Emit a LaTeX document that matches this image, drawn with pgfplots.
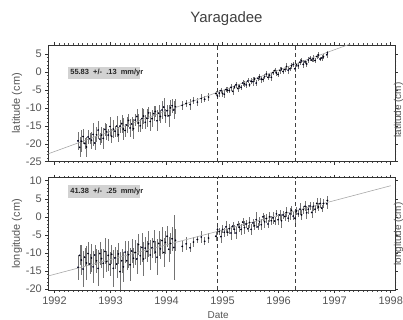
\documentclass[border=0pt]{standalone}
\usepackage{pgfplots}
\pgfplotsset{compat=1.18}
\usepackage{pgfplotstable}
\usepackage{fontspec}
\setmainfont{Liberation Sans}
\definecolor{txtgray}{HTML}{555555}
\definecolor{boxgray}{HTML}{D2D2D2}
\definecolor{fitgray}{HTML}{A8A8A8}

\pgfplotstableread{
t lat late lon lone
1992.42 -19.2 2.5 -14.0 3.5
1992.45 -21.0 2.8 -10.7 2.8
1992.48 -19.3 3.0 -12.0 4.2
1992.51 -18.0 2.2 -14.5 5.0
1992.54 -19.9 1.6 -11.2 2.5
1992.57 -20.9 2.8 -12.8 4.8
1992.60 -18.1 2.0 -10.2 3.2
1992.63 -18.6 1.5 -13.1 2.7
1992.66 -19.0 2.4 -11.4 3.9
1992.69 -17.4 3.2 -13.9 4.5
1992.72 -19.8 1.9 -10.6 2.9
1992.75 -17.5 2.1 -12.2 3.4
1992.78 -16.2 2.6 -14.3 5.0
1992.81 -18.7 1.7 -10.2 3.1
1992.84 -17.6 2.3 -11.6 2.6
1992.87 -18.5 3.0 -12.9 4.0
1992.90 -16.0 1.8 -9.6 3.6
1992.93 -16.7 2.2 -12.4 2.8
1992.96 -17.6 1.6 -10.7 4.4
1992.99 -15.2 2.7 -13.2 3.3
1993.02 -17.9 2.0 -10.4 2.7
1993.05 -15.9 2.4 -14.3 5.2
1993.08 -16.5 1.5 -11.4 3.0
1993.11 -15.1 2.9 -13.1 3.8
1993.14 -17.5 2.1 -10.3 2.9
1993.17 -15.1 1.8 -15.2 5.5
1993.20 -14.4 2.5 -12.2 3.4
1993.23 -15.9 3.1 -13.9 4.1
1993.26 -16.3 1.9 -9.8 3.0
1993.29 -14.8 2.3 -12.2 2.6
1993.32 -13.5 1.7 -10.5 3.7
1993.35 -15.6 2.6 -13.3 4.6
1993.38 -14.5 2.0 -9.5 3.2
1993.41 -15.8 2.8 -11.5 2.8
1993.44 -13.4 1.6 -9.9 3.5
1993.47 -12.4 2.2 -11.7 4.3
1993.50 -14.2 2.4 -7.7 3.0
1993.53 -15.0 1.8 -10.8 2.7
1993.56 -13.0 3.0 -8.5 3.9
1993.59 -12.3 2.1 -11.7 4.8
1993.62 -14.0 1.9 -8.7 3.1
1993.65 -12.9 2.5 -9.6 2.9
1993.68 -11.4 1.7 -7.5 3.6
1993.71 -13.8 2.7 -10.6 4.2
1993.74 -13.0 2.3 -8.6 2.8
1993.77 -11.6 2.0 -6.9 3.3
1993.80 -11.0 1.6 -9.8 3.0
1993.83 -13.6 2.9 -11.2 5.0
1993.86 -11.5 2.2 -7.4 3.4
1993.89 -12.4 1.8 -8.9 2.7
1993.92 -10.6 2.4 -6.6 3.8
1993.95 -9.8 2.6 -9.9 4.0
1993.98 -12.2 2.0 -7.1 3.1
1994.01 -10.8 1.7 -5.4 2.9
1994.04 -12.2 3.0 -9.0 3.5
1994.07 -10.0 2.2 -7.4 2.8
1994.10 -9.4 1.9 -6.1 3.3
1994.13 -10.6 2.5 -8.5 9.0
1994.16 -9.7 2.1 -6.5 3.0
1994.28 -9.3 1.2 -8.2 1.5
1994.35 -8.8 1.0 -7.5 1.8
1994.42 -9.1 1.5 -8.6 1.2
1994.48 -8.0 0.9 -7.0 1.4
1994.55 -8.4 1.1 -6.3 1.0
1994.62 -7.4 1.3 -5.6 1.6
1994.68 -7.6 0.8 -6.8 1.1
1994.75 -7.0 1.0 -5.9 1.3
1994.88 -6.0 0.8 -5.4 1.2
1994.91 -6.7 0.6 -3.5 1.5
1994.94 -5.9 1.0 -4.1 1.0
1994.97 -5.2 0.7 -5.5 1.8
1995.00 -6.0 0.9 -3.5 1.1
1995.03 -6.2 1.2 -4.3 1.3
1995.06 -4.9 0.6 -2.8 1.6
1995.09 -5.1 0.8 -4.3 1.0
1995.12 -5.2 0.7 -3.3 1.4
1995.15 -4.3 1.0 -4.5 2.0
1995.18 -5.4 0.9 -2.6 1.1
1995.21 -4.2 0.6 -3.5 1.2
1995.24 -3.6 0.8 -4.5 1.7
1995.27 -4.6 1.1 -2.2 1.0
1995.30 -4.0 0.7 -2.9 1.3
1995.33 -4.3 0.6 -3.5 1.5
1995.36 -3.1 0.9 -1.5 1.1
1995.39 -3.3 0.8 -3.0 1.9
1995.42 -3.6 1.0 -2.0 1.2
1995.45 -2.5 0.7 -3.3 1.0
1995.48 -3.6 0.6 -1.6 1.4
1995.51 -2.6 0.8 -3.5 1.6
1995.54 -2.7 1.3 -1.7 1.1
1995.57 -2.0 0.7 -2.5 1.3
1995.60 -3.1 0.9 -0.8 2.2
1995.63 -1.8 0.6 -2.8 1.0
1995.66 -1.4 0.8 -1.4 1.2
1995.69 -2.0 1.0 -2.2 1.5
1995.72 -2.1 0.7 0.0 1.1
1995.75 -1.3 0.6 -1.4 1.8
1995.78 -0.6 0.9 -0.5 1.3
1995.81 -1.5 0.8 -2.0 1.0
1995.84 -0.9 0.7 0.0 1.4
1995.87 -1.5 1.1 -1.1 1.2
1995.90 -0.2 0.6 -0.3 1.6
1995.93 0.4 0.8 -1.2 1.1
1995.96 -0.3 0.9 0.8 1.0
1995.99 -0.7 0.7 -0.8 1.5
1996.02 0.4 1.0 0.5 1.3
1996.05 0.8 0.6 -1.1 1.9
1996.08 0.1 0.8 0.5 1.1
1996.11 0.7 0.7 0.1 1.2
1996.14 1.5 0.9 1.2 1.4
1996.17 0.5 1.2 -0.4 1.0
1996.20 0.9 0.6 0.8 1.7
1996.23 1.7 0.8 1.8 1.3
1996.26 2.1 0.7 0.2 1.1
1996.29 0.9 1.0 -0.4 1.5
1996.32 2.0 0.6 1.6 1.2
1996.35 1.7 0.9 0.8 1.0
1996.38 2.7 0.8 2.1 1.6
1996.41 3.1 0.7 0.5 1.3
1996.44 2.1 1.1 2.0 1.1
1996.47 2.8 0.6 2.9 1.4
1996.50 2.2 0.8 1.1 1.8
1996.53 3.3 0.9 2.1 1.2
1996.56 3.8 0.7 3.0 1.0
1996.59 3.3 0.6 1.2 1.5
1996.62 3.7 1.0 2.9 1.3
1996.65 3.2 0.8 2.1 1.1
1996.68 4.3 0.7 3.7 1.6
1996.71 4.7 0.9 2.7 1.2
1996.74 3.6 0.6 3.7 1.4
1996.77 3.9 0.8 2.4 1.0
1996.80 4.2 0.7 3.7 1.3
1996.86 4.8 0.8 3.6 1.5
1996.87 5.3 0.6 4.5 1.2
}\data

\pgfplotsset{
  panel/.style={
    anchor=south west, scale only axis, width=346.7bp,
    xmin=1991.89, xmax=1998.077,
    xtick={1992,1993,1994,1995,1996,1997,1998},
    scaled x ticks=false, scaled y ticks=false,
    minor x tick num=11, minor y tick num=4,
    tick align=outside, tick pos=both,
    major tick length=3bp, minor tick length=1.5bp,
    axis line style={black!80, line width=0.5pt},
    every tick/.style={black!80, line width=0.4pt},
    every minor tick/.style={black!70, line width=0.3pt},
    tick label style={font=\fontsize{11}{13}\selectfont, text=txtgray},
    /pgf/number format/assume math mode=true,
    /pgf/number format/1000 sep={},
    label style={font=\fontsize{11}{13}\selectfont, text=txtgray},
    ylabel style={at={(axis description cs:-0.09,0.5)}, anchor=center},
    clip=true,
  },
  datapts/.style={only marks, mark=*, mark size=0.65pt, black,
    error bars/.cd, y dir=both, y explicit,
    error bar style={line width=0.3pt, black!55}, error mark=none},
}

\begin{document}
\begin{tikzpicture}
\path[use as bounding box] (0,0) rectangle (403bp,320bp);

\node[anchor=base, font=\fontsize{15}{18}\selectfont, text=black!75] at (226.5bp,297.5bp) {Yaragadee};

% top panel: latitude
\begin{axis}[panel, at={(48.3bp,158.3bp)}, height=116.7bp,
  ymin=-25, ymax=7.5, ytick={-25,-20,-15,-10,-5,0,5},
  xticklabels={}, ylabel={latitude (cm)}]
\addplot+[datapts] table[x=t, y=lat, y error=late] {\data};
\addplot[fitgray, line width=0.6pt] coordinates {(1991.89,-22.8) (1997.3,7.9)};
\addplot[black!75, dashed, dash pattern=on 4bp off 3bp, line width=0.6pt] coordinates {(1994.90,-25) (1994.90,7.5)};
\addplot[black!75, dashed, dash pattern=on 4bp off 3bp, line width=0.6pt] coordinates {(1996.29,-25) (1996.29,7.5)};
\fill[boxgray] (axis cs:1992.244,-1.96) rectangle (axis cs:1993.53,1.46);
\node[anchor=west, inner sep=0pt, font=\fontsize{7.5}{9}\selectfont\bfseries, text=black!85] at (axis cs:1992.28,-0.25) {55.83\ \ +/-\ \ .13\ \ mm/yr};
\end{axis}
\node[rotate=90, anchor=center, font=\fontsize{10}{12}\selectfont, text=txtgray] at (398.5bp,210bp) {latitude (cm)};

% bottom panel: longitude
\begin{axis}[panel, at={(48.3bp,30bp)}, height=112.3bp,
  ymin=-20.3, ymax=10.83, ytick={-20,-15,-10,-5,0,5,10},
  xlabel={Date}, ylabel={longitude (cm)},
  xlabel style={at={(axis description cs:0.49,0)}, anchor=north, inner sep=0pt, yshift=-21bp, font=\fontsize{10}{12}\selectfont}]
\addplot+[datapts] table[x=t, y=lon, y error=lone] {\data};
\addplot[fitgray, line width=0.6pt] coordinates {(1991.89,-16.4) (1998.0,8.6)};
\addplot[black!75, dashed, dash pattern=on 4bp off 3bp, line width=0.6pt] coordinates {(1994.90,-20.3) (1994.90,10.83)};
\addplot[black!75, dashed, dash pattern=on 4bp off 3bp, line width=0.6pt] coordinates {(1996.29,-20.3) (1996.29,10.83)};
\fill[boxgray] (axis cs:1992.244,5.1) rectangle (axis cs:1993.53,8.8);
\node[anchor=west, inner sep=0pt, font=\fontsize{7.5}{9}\selectfont\bfseries, text=black!85] at (axis cs:1992.28,6.95) {41.38\ \ +/-\ \ .25\ \ mm/yr};
\end{axis}
\node[rotate=90, anchor=center, font=\fontsize{10}{12}\selectfont, text=txtgray] at (398.5bp,86bp) {longitude (cm)};
\end{tikzpicture}
\end{document}
